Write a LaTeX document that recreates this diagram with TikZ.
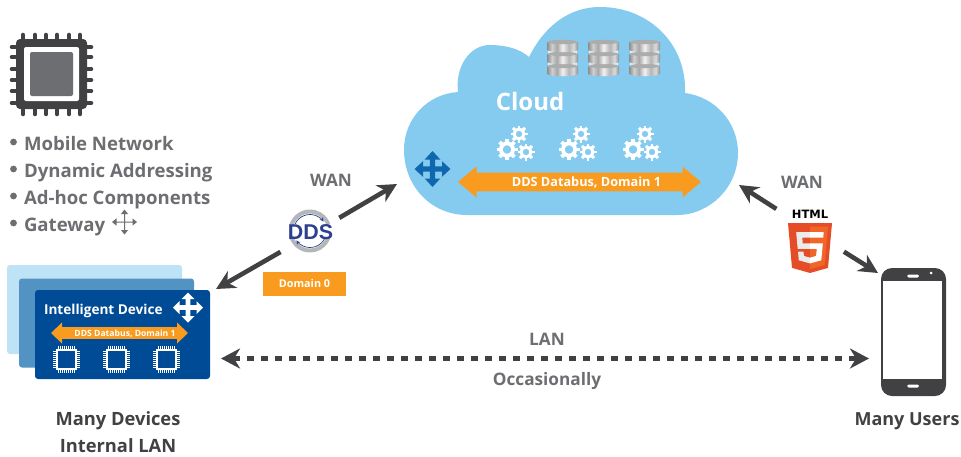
\documentclass[tikz,border=0pt]{standalone}
\usepackage{fontspec}
\setmainfont{Open Sans}
\newfontfamily\ddsfont{Liberation Sans}
\newfontfamily\htmlfont{DejaVu Sans}
\usetikzlibrary{arrows.meta,calc}
\definecolor{txtgray}{HTML}{6D6E71}
\definecolor{ink}{HTML}{414042}
\definecolor{cloudblue}{HTML}{85CBF0}
\definecolor{devdark}{HTML}{004B96}
\definecolor{devmid}{HTML}{5393C3}
\definecolor{devlight}{HTML}{BFE3F6}
\definecolor{busorange}{HTML}{F99B1E}
\definecolor{crossblue}{HTML}{0F68AE}
\definecolor{ddsblue}{HTML}{2E3F8F}
\definecolor{ddsgray}{HTML}{B4B7B9}
\definecolor{htmlone}{HTML}{E44D26}
\definecolor{htmltwo}{HTML}{F16529}
\definecolor{htmlthree}{HTML}{EBEBEB}
\definecolor{diska}{HTML}{8C8C8C}
\definecolor{diskb}{HTML}{CFCFCF}
\definecolor{diskc}{HTML}{A8A8A8}
\definecolor{diskd}{HTML}{F2F2F2}
\definecolor{diske}{HTML}{B5B5B5}
\definecolor{diskf}{HTML}{DADADA}
\pgfdeclarehorizontalshading{diskshade}{100bp}{
  color(0bp)=(diska); color(25bp)=(diska); color(33bp)=(diskb); color(41bp)=(diskc);
  color(50bp)=(diskd); color(60bp)=(diske); color(68bp)=(diskf); color(75bp)=(diska); color(100bp)=(diska)}
\tikzset{
  lbl/.style={inner sep=0pt,outer sep=0pt,font=\bfseries\fontsize{#1}{#1}\selectfont},
  graylbl/.style={lbl=#1,text=txtgray},
  inklbl/.style={lbl=#1,text=ink},
  whitelbl/.style={lbl=#1,text=white},
  bigarrow/.style={draw=ink,line width=4.6pt,-{Stealth[length=19pt,width=19pt,inset=6pt]}},
  lanarrow/.style={draw=ink,line width=4.6pt,dash pattern=on 7pt off 7pt,{Stealth[length=19pt,width=20pt,inset=6pt]}-{Stealth[length=19pt,width=20pt,inset=6pt]}},
  anchorcircle/.style={circle,inner sep=0pt,outer sep=0pt,minimum size=#1},
  cardbox/.style={inner sep=0pt,outer sep=0pt,rounded corners=3pt,minimum width=175pt,minimum height=89pt}
}
% four way arrows: x y arm headhalf headlen shafthalf colour
\newcommand{\crossicon}[7]{%
  \begin{scope}[shift={(#1,#2)}]
    \fill[#7] (0,-#3) -- (#4,-#3+#5) -- (#6,-#3+#5) -- (#6,-#6) -- (#3-#5,-#6) -- (#3-#5,-#4) -- (#3,0)
      -- (#3-#5,#4) -- (#3-#5,#6) -- (#6,#6) -- (#6,#3-#5) -- (#4,#3-#5) -- (0,#3)
      -- (-#4,#3-#5) -- (-#6,#3-#5) -- (-#6,#6) -- (-#3+#5,#6) -- (-#3+#5,#4) -- (-#3,0)
      -- (-#3+#5,-#4) -- (-#3+#5,-#6) -- (-#6,-#6) -- (-#6,-#3+#5) -- (-#4,-#3+#5) -- cycle;
  \end{scope}}
% gear: x y radius
\newcommand{\geartooth}[3]{%
  \begin{scope}[shift={(#1,#2)}]
    \foreach \a in {0,45,...,315}{
      \fill[white,rotate=\a] (-#3*0.17,#3*0.6) rectangle (#3*0.17,#3);
    }
    \draw[white,line width=#3*0.36pt] (0,0) circle[radius=#3*0.58];
  \end{scope}}
\newcommand{\geargroup}[1]{%
  \geartooth{#1+507}{149.5}{10.5}
  \geartooth{#1+519}{134}{8.5}
  \geartooth{#1+526}{152}{8.5}}
% one disk: x top bottom
\newcommand{\diskshape}[3]{%
  \shade[shading=diskshade]
    (#1,#2) -- (#1,#3) .. controls (#1+4,#3+3) and (#1+27,#3+3) .. (#1+31,#3) -- (#1+31,#2) .. controls (#1+27,#2+3) and (#1+4,#2+3) .. (#1,#2) -- cycle;
  \fill[gray!65!white] (#1,#2) .. controls (#1+4,#2-3) and (#1+27,#2-3) .. (#1+31,#2) .. controls (#1+27,#2+3) and (#1+4,#2+3) .. (#1,#2) -- cycle;}
\newcommand{\dbstack}[1]{%
  \fill[white!70!cloudblue] (#1+1,50) rectangle (#1+30,67);
  \diskshape{#1}{66}{74}
  \diskshape{#1}{54}{62}
  \diskshape{#1}{42}{50}}
% small white chip: x y
\newcommand{\minichip}[2]{%
  \begin{scope}[shift={(#1,#2)}]
    \foreach \t in {-8,-6,...,8}{
      \draw[white,line width=0.9pt] (\t,-13.5) -- (\t,13.5);
      \draw[white,line width=0.9pt] (-13.5,\t) -- (13.5,\t);
    }
    \fill[devdark] (-9,-9) rectangle (9,9);
    \draw[white,line width=2.2pt] (-9.4,-9.4) rectangle (9.4,9.4);
  \end{scope}}
% bus arrow: x1 x2 y bodyhalf headhalf headlen
\newcommand{\busarrow}[6]{%
  \fill[busorange] (#1,#3) -- (#1+#6,#3-#5) -- (#1+#6,#3-#4) -- (#2-#6,#3-#4) -- (#2-#6,#3-#5) -- (#2,#3) -- (#2-#6,#3+#5) -- (#2-#6,#3+#4) -- (#1+#6,#3+#4) -- (#1+#6,#3+#5) -- cycle;}
\begin{document}
\begin{tikzpicture}[x=1pt,y=-1pt]
\useasboundingbox (0,0) rectangle (961,456);
\fill[white] (0,0) rectangle (961,456);

% large chip
\foreach \t in {23,35,46,57,69,80}{
  \draw[ink,line width=4.6pt,line cap=round] (\t,35) -- (\t,114);
}
\foreach \t in {47,57,69,80,91,103}{
  \draw[ink,line width=4.6pt,line cap=round] (12,\t) -- (91,\t);
}
\fill[ink,rounded corners=4pt] (16,39) rectangle (87,109);
\fill[white,rounded corners=2pt] (24,47) rectangle (79,101);
\fill[txtgray,rounded corners=2pt] (30,52) rectangle (73,96);

% bullet list
\node[graylbl=18.6,anchor=base west] (li1) at (24,150) {Mobile Network};
\node[graylbl=18.6,anchor=base west] (li2) at (24,177) {Dynamic Addressing};
\node[graylbl=18.6,anchor=base west] (li3) at (24,204) {Ad-hoc Components};
\node[graylbl=18.6,anchor=base west] (li4) at (24,231) {Gateway};
\foreach \y in {142,169,196,223}{ \fill[txtgray] (13.5,\y) circle[radius=3.4]; }
\crossicon{124.5}{222}{12.5}{3.6}{4.5}{0.5}{txtgray}

% device cards
\node[cardbox,fill=devlight] (card3) at (94.5,309.5) {};
\node[cardbox,fill=devmid] (card2) at (106.5,323) {};
\node[cardbox,fill=devdark] (device) at (122.5,334.5) {};
\node[whitelbl=13.6,anchor=base west] (devtitle) at (44,314) {Intelligent Device};
\crossicon{188}{307.5}{15}{6.5}{6.5}{2.4}{white}
\busarrow{51}{188}{333}{5.8}{10.5}{11}
\node[whitelbl=8.6,anchor=base] (devbus) at (125,336) {DDS Databus, Domain 1};
\minichip{66.5}{359.5}
\minichip{116.5}{359.5}
\minichip{166.5}{359.5}
\node[inklbl=18.3,anchor=base] (dev1) at (118,425) {Many Devices};
\node[inklbl=18.3,anchor=base] (dev2) at (118,452) {Internal LAN};

% cloud
\fill[cloudblue] (467,215) .. controls (431,215) and (404,186) .. (404,150)
  .. controls (404,118) and (428,94) .. (458,92)
  .. controls (455,66) and (470,45) .. (490,45)
  .. controls (506,45) and (520,49) .. (529,57)
  .. controls (545,25) and (570,7) .. (600,7)
  .. controls (650,7) and (687,45) .. (685,93)
  .. controls (715,97) and (738,122) .. (738,153)
  .. controls (738,187) and (710,215) .. (677,215) -- cycle;
\dbstack{547}
\dbstack{588}
\dbstack{629}
\node[whitelbl=24,anchor=base] (cloudtitle) at (530,110) {Cloud};
\geargroup{0}
\geargroup{62}
\geargroup{126}
\crossicon{432.5}{169}{18}{7.8}{8.5}{2.6}{crossblue}
\busarrow{458}{701}{182}{9.3}{15.5}{18.5}
\node[whitelbl=12.7,anchor=base] (cloudbus) at (586.5,186) {DDS Databus, Domain 1};

% DDS logo
\begin{scope}[shift={(310,231)}]
  \draw[ddsgray,line width=4pt] (-165:19.5) arc[start angle=-165,end angle=-20,radius=19.5];
  \draw[ddsgray,line width=4pt] (165:19.5) arc[start angle=165,end angle=20,radius=19.5];
  \draw[ddsblue,line width=0.7pt,-{Stealth[length=4pt,width=4pt]}] (-155:16.5) arc[start angle=-155,end angle=-35,radius=16.5];
  \draw[ddsblue,line width=0.7pt,-{Stealth[length=4pt,width=4pt]}] (25:16.5) arc[start angle=25,end angle=145,radius=16.5];
\end{scope}
\node[inner sep=0pt,text=ddsblue,font=\ddsfont\bfseries\fontsize{21.4}{21.4}\selectfont] (ddstext) at (310.5,232.5) {DDS};
\node[anchorcircle=68pt] (dds) at (310,235) {};
\fill[busorange] (263,272) rectangle (346,296);
\node[whitelbl=10.8,anchor=base] (domain0) at (304.5,287.5) {Domain 0};
\coordinate (cloudL) at (397,184);
\coordinate (devTip) at (216,289);
\draw[bigarrow] (dds) -- (cloudL);
\draw[bigarrow] (dds) -- (devTip);
\node[graylbl=17.2,anchor=base] (wan1) at (331,186) {WAN};

% HTML5
\node[inner sep=0pt,text=black,font=\htmlfont\bfseries\fontsize{11.5}{11.5}\selectfont] (htmltext) at (810,214.5) {HTML};
\begin{scope}[shift={(785.07,223)},scale=0.0976]
  \fill[htmlone] (71,460) -- (30,0) -- (481,0) -- (440,460) -- (256,512) -- cycle;
  \fill[htmltwo] (256,472) -- (405,431) -- (440,37) -- (256,37) -- cycle;
  \fill[htmlthree] (256,208) -- (181,208) -- (176,150) -- (256,150) -- (256,94) -- (114,94) -- (129,265) -- (256,265) -- cycle;
  \fill[htmlthree] (256,355) -- (193,338) -- (189,293) -- (133,293) -- (140,382) -- (256,414) -- cycle;
  \fill[white] (255,208) -- (255,265) -- (325,265) -- (318,338) -- (255,355) -- (255,414) -- (371,382) -- (387,208) -- cycle;
  \fill[white] (255,94) -- (255,150) -- (391,150) -- (396,94) -- cycle;
\end{scope}
\node[anchorcircle=80pt] (html5) at (810,230.5) {};
\coordinate (cloudR) at (739,185);
\coordinate (phoneTip) at (878,273);
\draw[bigarrow] (html5) -- (cloudR);
\draw[bigarrow] (html5) -- (phoneTip);
\node[graylbl=17.2,anchor=base] (wan2) at (802,188) {WAN};

% phone
\node[inner sep=0pt,outer sep=0pt,fill=ink,rounded corners=11pt,minimum width=65pt,minimum height=128pt] (phone) at (913.5,332) {};
\fill[white] (883,281) rectangle (942,379);
\fill[white,rounded corners=1.5pt] (907,274.5) rectangle (919,277.5);
\fill[white] (931,273) circle[radius=1.5];
\fill[white,rounded corners=1.5pt] (907,384.5) rectangle (919,387.5);
\node[inklbl=18,anchor=base] (users) at (907,425) {Many Users};

% LAN
\draw[lanarrow] ([xshift=11pt,yshift=-24pt]device.east) -- ([xshift=-12pt,yshift=-26.5pt]phone.west);
\node[graylbl=17.2,anchor=base] (lan) at (547,345) {LAN};
\node[graylbl=17.2,anchor=base] (occ) at (547,385) {Occasionally};
\end{tikzpicture}
\end{document}
